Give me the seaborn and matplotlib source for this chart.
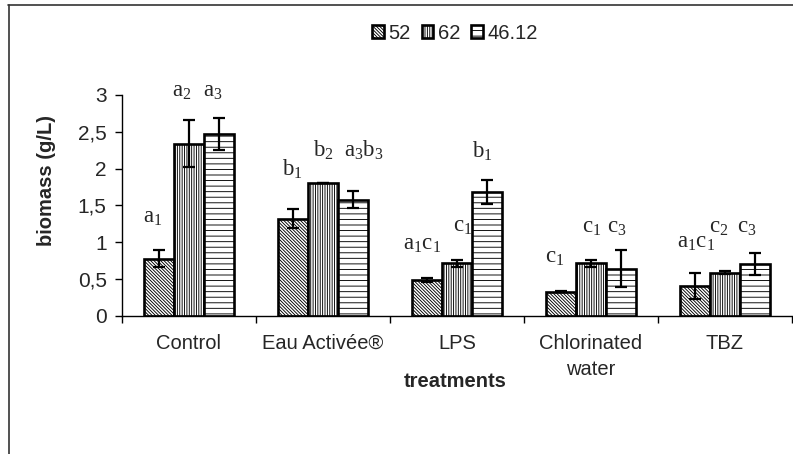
import numpy as np
import pandas as pd
import matplotlib
matplotlib.use("Agg")
import matplotlib.pyplot as plt
from matplotlib.lines import Line2D
import seaborn as sns

# Biomass per treatment for three isolates, with standard errors
categories = ["Control", "Eau Activée®", "LPS", "Chlorinated\nwater", "TBZ"]
series = ["52", "62", "46.12"]
biomass_52 = [0.78, 1.32, 0.49, 0.33, 0.41]
biomass_62 = [2.34, 1.81, 0.715, 0.715, 0.59]
biomass_4612 = [2.47, 1.58, 1.68, 0.64, 0.70]
err_52 = [0.12, 0.13, 0.03, 0.01, 0.18]
err_62 = [0.32, 0.0, 0.05, 0.05, 0.02]
err_4612 = [0.22, 0.11, 0.16, 0.25, 0.15]

# Significance letters per treatment group
group_letters = [
    ["a_1", "a_2", "a_3"],
    ["b_1", "b_2", "a_3b_3"],
    ["a_1c_1", "c_1", "b_1"],
    ["c_1", "c_1", "c_3"],
    ["a_1c_1", "c_2", "c_3"],
]

y_ticks = [0, 0.5, 1, 1.5, 2, 2.5, 3]
y_tick_labels = ["0", "0,5", "1", "1,5", "2", "2,5", "3"]

# Placement of the letters (x offset from category centre, y in data units)
letter_places = [
    [(-0.343, 1.262), (-0.127, 2.97), (0.104, 2.97)],
    [(-0.306, 1.90), (-0.075, 2.157), (0.157, 2.157)],
    [(-0.403, 0.896), (-0.030, 1.14), (0.112, 2.144)],
    [(-0.343, 0.719), (-0.067, 1.126), (0.119, 1.126)],
    [(-0.358, 0.923), (-0.119, 1.126), (0.090, 1.126)],
]

values = [biomass_52, biomass_62, biomass_4612]
errors = [err_52, err_62, err_4612]

df = pd.DataFrame({
    "treatment": np.tile(categories, len(series)),
    "series": np.repeat(series, len(categories)),
    "biomass": np.concatenate(values),
})

sns.set_style("white")
plt.rcParams["font.family"] = ["Liberation Sans", "DejaVu Sans"]
plt.rcParams["hatch.linewidth"] = 0.65
plt.rcParams["hatch.color"] = "black"

fig = plt.figure(figsize=(7.93, 4.54), dpi=100)
ax = fig.add_axes([0.1538, 0.304, 0.8449, 0.4868])

sns.barplot(
    data=df, x="treatment", y="biomass", hue="series",
    order=categories, hue_order=series, palette=["white"] * 3,
    width=0.67, errorbar=None, edgecolor="black", linewidth=1.9,
    saturation=1, legend=False, ax=ax,
)

hatches = ["\\" * 10, "|" * 7, "---"]
for cont, hatch, errs in zip(ax.containers, hatches, errors):
    xs, ys = [], []
    for patch in cont.patches:
        patch.set_hatch(hatch)
        patch.set_edgecolor("black")
        xs.append(patch.get_x() + patch.get_width() / 2)
        ys.append(patch.get_height())
    ax.errorbar(xs, ys, yerr=errs, fmt="none", ecolor="black",
                elinewidth=1.6, capsize=4.3, capthick=1.6, zorder=5)

# Significance letters
for i, (labels, places) in enumerate(zip(group_letters, letter_places)):
    for lab, (dx, yy) in zip(labels, places):
        ax.text(i + dx, yy, r"$\mathregular{" + lab + "}$",
                fontsize=16.5, family="Liberation Serif",
                ha="left", va="baseline", clip_on=False)

ax.set_xlim(-0.5, len(categories) - 0.5)
ax.set_ylim(0, 3)
ax.set_yticks(y_ticks)
ax.set_yticklabels(y_tick_labels)
ax.set_xticks(range(len(categories)))
ax.set_xticklabels(categories, linespacing=1.45)
ax.set_xticks(np.arange(-0.5, len(categories)), minor=True)

ax.tick_params(axis="y", which="major", direction="out", length=5,
               width=1, color="black", labelsize=15, pad=6, left=True)
ax.tick_params(axis="x", which="major", length=0, labelsize=14.5, pad=13)
ax.tick_params(axis="x", which="minor", direction="out", length=5,
               width=1, color="black", bottom=True)

for side in ["top", "right"]:
    ax.spines[side].set_visible(False)
for side in ["left", "bottom"]:
    ax.spines[side].set_color("black")
    ax.spines[side].set_linewidth(1)

ax.set_xlabel("treatments", fontsize=14.5, fontweight="bold")
ax.xaxis.set_label_coords(0.497, -0.295)
ax.xaxis.label.set_va("center")
ax.set_ylabel("biomass (g/L)", fontsize=14.5, fontweight="bold")
ax.yaxis.set_label_coords(-0.112, 0.615)
ax.yaxis.label.set_va("center")

ax.legend(ax.containers, series, ncol=3, frameon=False, fontsize=14.5,
          loc="center", bbox_to_anchor=(0.574, 0.927),
          bbox_transform=fig.transFigure, handlelength=0.55,
          handleheight=0.55, handletextpad=0.25, columnspacing=0.55,
          borderaxespad=0, borderpad=0)

# Outer frame lines along the top and left edges
fig.add_artist(Line2D([8 / 793, 1], [1 - 4.5 / 454, 1 - 4.5 / 454],
                      transform=fig.transFigure, color="#333333", lw=1.2))
fig.add_artist(Line2D([8.5 / 793, 8.5 / 793], [0, 1 - 4.5 / 454],
                      transform=fig.transFigure, color="#333333", lw=1.2))

fig.savefig("out.png", dpi=100)
